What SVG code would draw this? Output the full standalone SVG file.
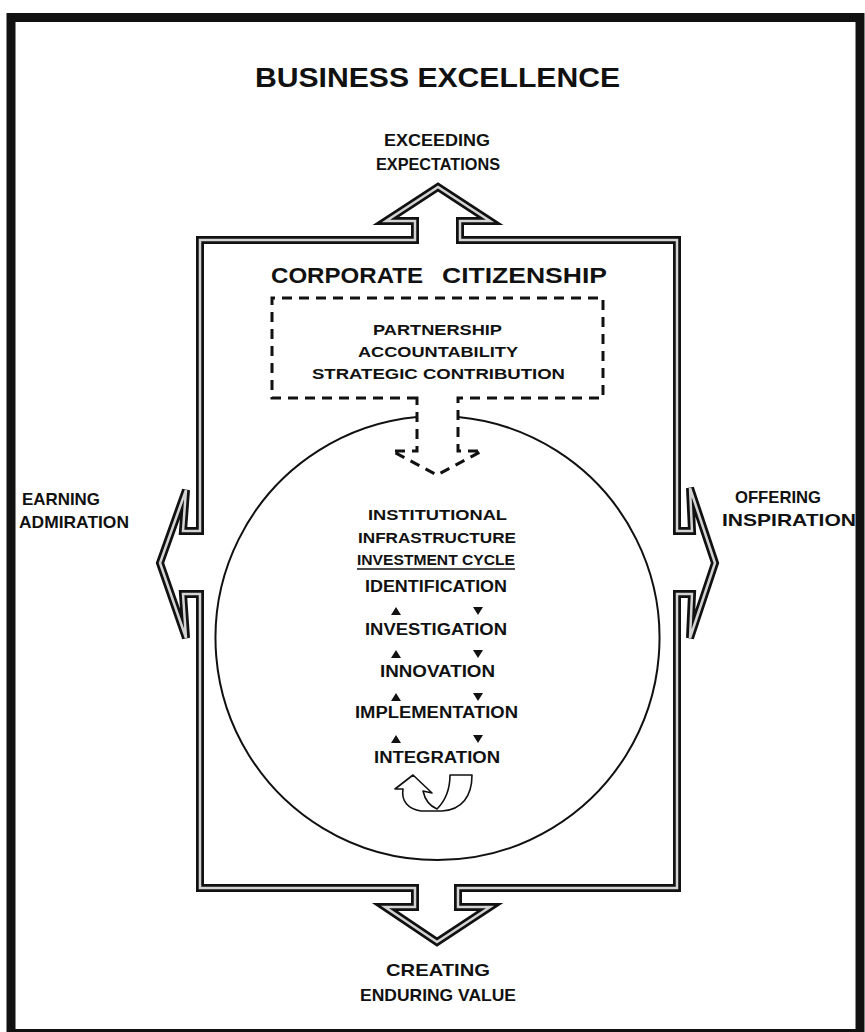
<svg xmlns="http://www.w3.org/2000/svg" width="865" height="1032" viewBox="0 0 865 1032">
  <style>
    text { font-family: "Liberation Sans", Arial, sans-serif; font-weight: bold; fill: #111; }
    .title { font-size: 28px; }
    .label { font-size: 17px; }
    .head { font-size: 22px; }
    .small { font-size: 15px; }
    .cycle { font-size: 16px; }
    .frame-outer { fill: none; stroke: #111; stroke-width: 8; stroke-linejoin: miter; }
    .frame-inner { fill: none; stroke: #d4d4d4; stroke-width: 2.5; stroke-linejoin: miter; }
    .dashed { fill: none; stroke: #111; stroke-width: 3; stroke-dasharray: 10 7; }
    .ring { fill: none; stroke: #111; stroke-width: 2; }
    .tri { fill: #111; }
  </style>

  <!-- outer border -->
  <rect id="border" x="11" y="17.5" width="849" height="1016" fill="none" stroke="#111" stroke-width="9"/>

  <g id="title">
    <text class="title" x="437.5" y="87" text-anchor="middle" textLength="365" lengthAdjust="spacingAndGlyphs">BUSINESS EXCELLENCE</text>
  </g>

  <!-- frame with four outward arrows (double line) -->
  <g id="frame">
    <path id="frame-shape" class="frame-outer" d="M 200 240 L 415 240 L 415 221 L 386 221 L 438 187 L 490 221 L 460 221 L 460 240 L 677 240 L 677 531 L 692 531 L 690 488 L 715 563 L 690 638 L 692 594 L 677 594 L 677 888 L 458 888 L 458 907 L 490 907 L 437 942 L 385 907 L 415 907 L 415 888 L 200 888 L 200 594 L 183 594 L 186 638 L 160 563 L 186 490 L 183 531 L 200 531 Z"/>
    <path class="frame-inner" d="M 200 240 L 415 240 L 415 221 L 386 221 L 438 187 L 490 221 L 460 221 L 460 240 L 677 240 L 677 531 L 692 531 L 690 488 L 715 563 L 690 638 L 692 594 L 677 594 L 677 888 L 458 888 L 458 907 L 490 907 L 437 942 L 385 907 L 415 907 L 415 888 L 200 888 L 200 594 L 183 594 L 186 638 L 160 563 L 186 490 L 183 531 L 200 531 Z"/>
  </g>

  <g id="label-top">
    <text class="label" x="437" y="146" text-anchor="middle" textLength="106" lengthAdjust="spacingAndGlyphs">EXCEEDING</text>
    <text class="label" x="438" y="170" text-anchor="middle" textLength="124" lengthAdjust="spacingAndGlyphs">EXPECTATIONS</text>
  </g>

  <g id="label-left">
    <text class="label" x="22" y="505" textLength="78" lengthAdjust="spacingAndGlyphs">EARNING</text>
    <text class="label" x="19" y="528" textLength="110" lengthAdjust="spacingAndGlyphs">ADMIRATION</text>
  </g>

  <g id="label-right">
    <text class="label" x="735" y="503" textLength="86" lengthAdjust="spacingAndGlyphs">OFFERING</text>
    <text class="label" x="722" y="526" textLength="134" lengthAdjust="spacingAndGlyphs">INSPIRATION</text>
  </g>

  <g id="label-bottom">
    <text class="label" x="438" y="976" text-anchor="middle" textLength="104" lengthAdjust="spacingAndGlyphs">CREATING</text>
    <text class="label" x="438" y="1001" text-anchor="middle" textLength="156" lengthAdjust="spacingAndGlyphs">ENDURING VALUE</text>
  </g>

  <g id="citizenship">
    <text class="head" y="283"><tspan x="271" textLength="152" lengthAdjust="spacingAndGlyphs">CORPORATE</tspan><tspan x="442" textLength="165" lengthAdjust="spacingAndGlyphs">CITIZENSHIP</tspan></text>
  </g>

  <!-- dashed box with its downward arrow into the circle -->
  <g id="contribution-box">
    <path class="dashed" d="M 417 398 L 272 398 L 272 298 L 603 298 L 603 398 L 458 398 L 458 451 L 482 451 L 437 475 L 392 451 L 417 451 Z"/>
    <text class="small" x="437.5" y="335" text-anchor="middle" textLength="129" lengthAdjust="spacingAndGlyphs">PARTNERSHIP</text>
    <text class="small" x="438" y="357" text-anchor="middle" textLength="160" lengthAdjust="spacingAndGlyphs">ACCOUNTABILITY</text>
    <text class="small" x="438.5" y="379" text-anchor="middle" textLength="253" lengthAdjust="spacingAndGlyphs">STRATEGIC CONTRIBUTION</text>
  </g>

  <!-- investment cycle circle, open where the arrow enters -->
  <g id="investment-cycle">
    <path class="ring" d="M 417 417 A 222 222 0 1 0 458 417"/>
    <text class="small" x="437.5" y="520" text-anchor="middle" textLength="139" lengthAdjust="spacingAndGlyphs">INSTITUTIONAL</text>
    <text class="small" x="437" y="543" text-anchor="middle" textLength="158" lengthAdjust="spacingAndGlyphs">INFRASTRUCTURE</text>
    <text class="small" x="436" y="565" text-anchor="middle" textLength="158" lengthAdjust="spacingAndGlyphs">INVESTMENT CYCLE</text>
    <line x1="357" y1="569" x2="515" y2="569" stroke="#111" stroke-width="1.6"/>

    <text class="cycle" x="436" y="592" text-anchor="middle" textLength="142" lengthAdjust="spacingAndGlyphs">IDENTIFICATION</text>
    <text class="cycle" x="436" y="635" text-anchor="middle" textLength="142" lengthAdjust="spacingAndGlyphs">INVESTIGATION</text>
    <text class="cycle" x="437.5" y="677" text-anchor="middle" textLength="115" lengthAdjust="spacingAndGlyphs">INNOVATION</text>
    <text class="cycle" x="436.5" y="718" text-anchor="middle" textLength="163" lengthAdjust="spacingAndGlyphs">IMPLEMENTATION</text>
    <text class="cycle" x="437" y="763" text-anchor="middle" textLength="126" lengthAdjust="spacingAndGlyphs">INTEGRATION</text>

    <!-- step arrows: up on the left, down on the right -->
    <polygon class="tri" points="391,615 401,615 396,607"/>
    <polygon class="tri" points="473,607 483,607 478,615"/>
    <polygon class="tri" points="391,658 401,658 396,650"/>
    <polygon class="tri" points="473,650 483,650 478,658"/>
    <polygon class="tri" points="391,701 401,701 396,693"/>
    <polygon class="tri" points="473,693 483,693 478,701"/>
    <polygon class="tri" points="391,743 401,743 396,735"/>
    <polygon class="tri" points="473,735 483,735 478,743"/>

    <!-- turn-around arrow -->
    <path fill="#fff" stroke="#111" stroke-width="1.6" stroke-linejoin="round" d="M 450 775 L 472 775 C 472 796, 462 810, 442 811 L 421 811 C 408 809, 401 801, 403 789 L 395 789 L 413 775 L 432 793 L 423 791 C 425 800, 430 806, 437 809 C 446 800, 450 789, 450 775 Z"/>
  </g>
</svg>
